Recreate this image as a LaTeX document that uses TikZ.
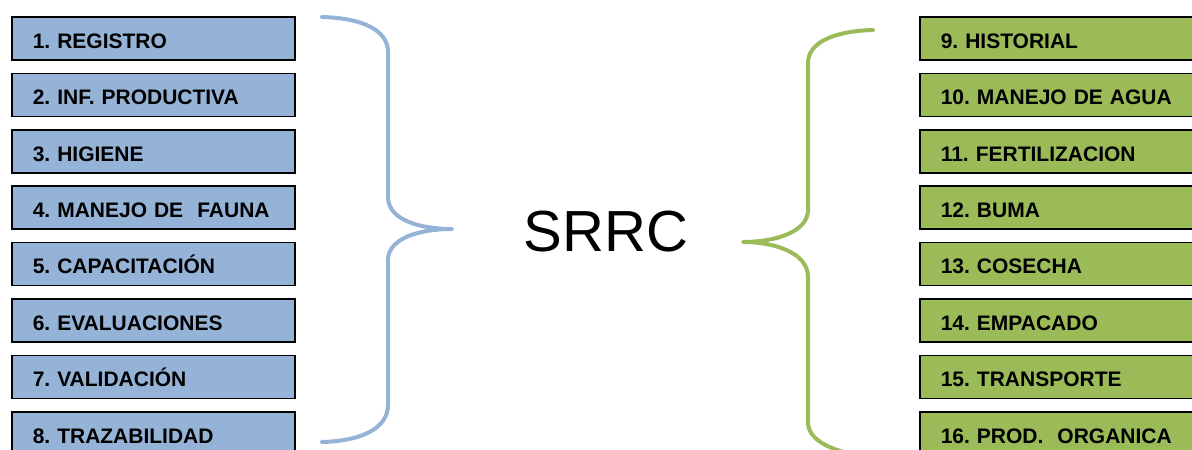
\documentclass[tikz,border=0pt]{standalone}
\usepackage{fontspec}
\setmainfont{Liberation Sans}
\frenchspacing
\definecolor{boxblue}{HTML}{95B3D7}
\definecolor{boxgreen}{HTML}{9BBB59}
\begin{document}
\begin{tikzpicture}[x=1pt,y=-1pt,
  item/.style={draw=black, line width=1.5pt, rectangle, minimum height=43pt, inner ysep=0pt,
    inner xsep=21pt, text width=241pt, align=left, anchor=west,
    text height=19.5pt, text depth=0pt,
    font=\fontsize{21}{21}\selectfont\bfseries},
  lbox/.style={item, fill=boxblue},
  rbox/.style={item, fill=boxgreen},
  brace/.style={line width=4pt, line cap=round, line join=round}]
\useasboundingbox (0,0) rectangle (1192,450);
\clip (0,0) rectangle (1192,450);
\node[lbox] (l1) at (11,38.5) {1. REGISTRO};
\node[lbox] (l2) at (11,94.9) {2. INF. PRODUCTIVA};
\node[lbox] (l3) at (11,151.3) {3. HIGIENE};
\node[lbox] (l4) at (11,207.7) {4. MANEJO DE \ FAUNA};
\node[lbox] (l5) at (11,264.1) {5. CAPACITACIÓN};
\node[lbox] (l6) at (11,320.5) {6. EVALUACIONES};
\node[lbox] (l7) at (11,376.9) {7. VALIDACIÓN};
\node[lbox] (l8) at (11,433.3) {8. TRAZABILIDAD};
\node[rbox] (r1) at (919,38.5) {9. HISTORIAL};
\node[rbox] (r2) at (919,94.9) {10. MANEJO DE AGUA};
\node[rbox] (r3) at (919,151.3) {11. FERTILIZACION};
\node[rbox] (r4) at (919,207.7) {12. BUMA};
\node[rbox] (r5) at (919,264.1) {13. COSECHA};
\node[rbox] (r6) at (919,320.5) {14. EMPACADO};
\node[rbox] (r7) at (919,376.9) {15. TRANSPORTE};
\node[rbox] (r8) at (919,433.3) {16. PROD. \ ORGANICA};
\node[font=\fontsize{58}{58}\selectfont] (srrc) at (606,232) {SRRC};
\draw[brace, draw=boxblue] (322,17) .. controls (362,18) and (388,30) .. (388,52) -- (388,197)
  .. controls (388,220) and (420,229) .. (452,229)
  .. controls (420,229) and (388,238) .. (388,260) -- (388,405)
  .. controls (388,428) and (362,441) .. (322,442);
\draw[brace, draw=boxgreen] (873,30) .. controls (835,31) and (808,42) .. (808,63) -- (808,210)
  .. controls (808,232) and (775,242) .. (743,242)
  .. controls (775,242) and (808,253) .. (808,277) -- (808,422)
  .. controls (808,440) and (830,450) .. (860,456);
\end{tikzpicture}
\end{document}
